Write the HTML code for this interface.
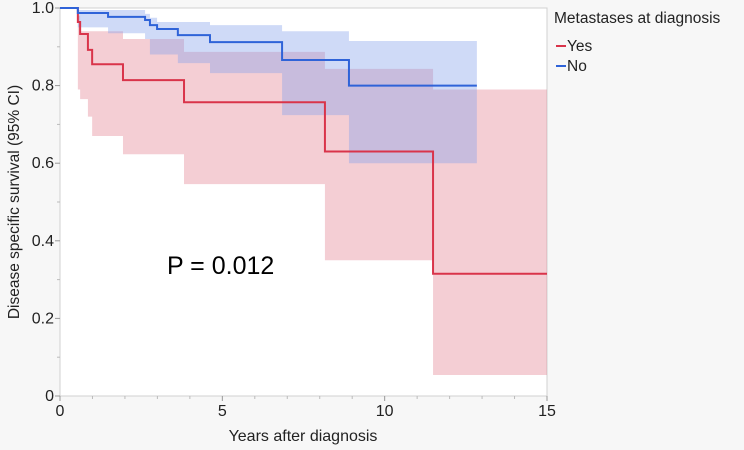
<!DOCTYPE html>
<html><head><meta charset="utf-8"><style>
body{margin:0;background:#f7f7f7;}
svg{display:block;font-family:"Liberation Sans","DejaVu Sans",sans-serif;}
</style></head><body>
<svg id="chart" width="744" height="450" viewBox="0 0 744 450">
<rect x="0" y="0" width="744" height="450" fill="#f7f7f7"/>
<rect x="60" y="8" width="487" height="388" fill="#fff" stroke="#d0d0d0"/>
<g id="bands"></g><g id="lines"></g><g id="axes"></g>
<text x="167" y="274" font-size="25" fill="#000">P = 0.012</text>
<text transform="translate(19,202) rotate(-90)" text-anchor="middle" font-size="15.5" fill="#222">Disease specific survival (95% CI)</text>
<text x="303" y="441" text-anchor="middle" font-size="16" fill="#222">Years after diagnosis</text>
<text x="554" y="23" font-size="15.5" fill="#222">Metastases at diagnosis</text>
<g><line x1="556" y1="46" x2="566" y2="46" stroke="#d9344a" stroke-width="2"/><text x="567" y="51" font-size="15.5" fill="#222">Yes</text></g>
<g><line x1="556" y1="66" x2="566" y2="66" stroke="#2f63d8" stroke-width="2"/><text x="567" y="71" font-size="15.5" fill="#222">No</text></g>
</svg>
<script>
const yesTimes=[0,0.55,0.62,0.86,0.99,1.94,3.82,8.16,11.49];
const yesSurv=[1,0.964,0.933,0.892,0.855,0.814,0.757,0.63,0.315];
const yesUpper=[1,0.98,0.94,0.94,0.94,0.92,0.887,0.843,0.79];
const yesLower=[1,0.79,0.765,0.72,0.67,0.623,0.546,0.35,0.054];
const yesEnd=15;
const noTimes=[0,0.55,1.48,2.62,2.77,2.99,3.63,4.62,6.84,8.9];
const noSurv=[1,0.987,0.977,0.969,0.956,0.946,0.93,0.912,0.866,0.80];
const noUpper=[1,0.995,0.995,0.985,0.975,0.964,0.964,0.956,0.94,0.915];
const noLower=[1,0.95,0.935,0.92,0.88,0.88,0.858,0.832,0.724,0.60];
const noEnd=12.84;
const xTicks=[0,5,10,15];
const yTicks=[0,0.2,0.4,0.6,0.8,1.0];
const yTickLabels=["0","0.2","0.4","0.6","0.8","1.0"];
const NS="http://www.w3.org/2000/svg";
const X=t=>60+t*487/15, Y=v=>396-v*388;
function stepPts(ts,vs,end){let p=[];for(let i=0;i<ts.length;i++){const x0=X(ts[i]),x1=X(i+1<ts.length?ts[i+1]:end);p.push([x0,Y(vs[i])],[x1,Y(vs[i])]);}return p;}
function band(ts,up,lo,end,fill,name){const u=stepPts(ts,up,end),l=stepPts(ts,lo,end).reverse();const el=document.createElementNS(NS,'polygon');el.setAttribute('points',u.concat(l).map(p=>p.join(',')).join(' '));el.setAttribute('fill',fill);el.setAttribute('fill-opacity','0.4');


document.getElementById('bands').appendChild(el);}
function line(ts,vs,end,col,name){const el=document.createElementNS(NS,'polyline');el.setAttribute('points',stepPts(ts,vs,end).map(p=>p.join(',')).join(' '));el.setAttribute('fill','none');el.setAttribute('stroke',col);el.setAttribute('stroke-width','2');


document.getElementById('lines').appendChild(el);}
band(yesTimes,yesUpper,yesLower,yesEnd,'#e48593','ci-band-yes');
band(noTimes,noUpper,noLower,noEnd,'#87a3ea','ci-band-no');
line(yesTimes,yesSurv,yesEnd,'#d9344a','survival-line-yes');
line(noTimes,noSurv,noEnd,'#2f63d8','survival-line-no');
const ax=document.getElementById('axes');
function add(tag,attrs,txt){const e=document.createElementNS(NS,tag);for(const k in attrs)e.setAttribute(k,attrs[k]);if(txt!==undefined)e.textContent=txt;ax.appendChild(e);return e;}
xTicks.forEach(t=>{const e=add('text',{x:X(t),y:416,'text-anchor':'middle','font-size':'16',fill:'#222'},String(t));


add('line',{x1:X(t),y1:396,x2:X(t),y2:401,stroke:'#999'});});
for(let t=1;t<15;t++){if(t%5)add('line',{x1:X(t),y1:396,x2:X(t),y2:399,stroke:'#bbb'});}
yTicks.forEach((v,i)=>{const e=add('text',{x:54,y:Y(v)+5,'text-anchor':'end','font-size':'16',fill:'#222'},yTickLabels[i]);


add('line',{x1:55,y1:Y(v),x2:60,y2:Y(v),stroke:'#999'});});
for(let v=0.1;v<1;v+=0.2){add('line',{x1:57,y1:Y(v),x2:60,y2:Y(v),stroke:'#bbb'});}
</script>
</body></html>
